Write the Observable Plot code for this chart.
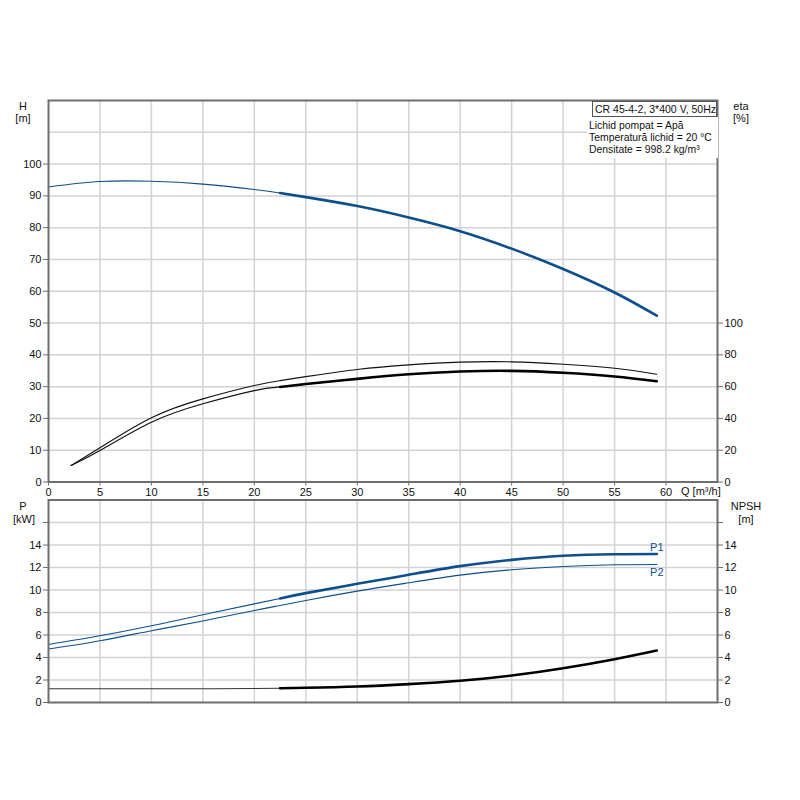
<!DOCTYPE html>
<html><head><meta charset="utf-8">
<script src="https://cdn.jsdelivr.net/npm/d3@7"></script>
<script src="https://cdn.jsdelivr.net/npm/@observablehq/plot@0.6"></script>
<style>
body{margin:0;background:#fff;font-family:"Liberation Sans",Arial,sans-serif;}
#wrap{position:relative;width:800px;height:800px;overflow:hidden;}
#wrap svg{position:absolute;left:0;}
.abs{position:absolute;font-size:11px;color:#111;white-space:nowrap;line-height:12px;z-index:2;}
.ctr{text-align:center;width:50px;}
</style></head><body><div id="wrap"></div>
<script>
// ---- data ----
const qH = [0, 5, 10, 15, 20, 22.5, 25, 30, 35, 40, 45, 50, 55, 59.1];
const headH = [92.8, 94.5, 94.6, 93.7, 92.0, 90.9, 89.6, 86.8, 83.2, 78.9, 73.4, 67.0, 59.6, 52.3];
const qEta = [2.2, 5, 10, 15, 20, 22.5, 25, 30, 35, 40, 45, 50, 55, 59.1];
const etaUpper = [10.4, 21.5, 40.4, 52.3, 60.7, 63.8, 66.3, 70.8, 73.7, 75.4, 75.6, 74.1, 71.6, 67.8];
const etaLower = [10.4, 19.8, 37.6, 49.2, 57.5, 59.8, 61.6, 64.9, 67.8, 69.5, 69.9, 68.7, 66.4, 63.4];
const qP = [0, 5, 10, 15, 20, 22.5, 25, 30, 35, 40, 45, 50, 55, 59.1];
const powerP1 = [5.16, 5.93, 6.82, 7.80, 8.77, 9.25, 9.72, 10.55, 11.35, 12.12, 12.68, 13.04, 13.18, 13.2];
const powerP2 = [4.75, 5.49, 6.38, 7.25, 8.18, 8.62, 9.07, 9.90, 10.64, 11.32, 11.80, 12.09, 12.24, 12.27];
const npsh = [1.22, 1.22, 1.22, 1.22, 1.25, 1.27, 1.31, 1.42, 1.63, 1.93, 2.40, 3.05, 3.85, 4.62];
const qTicks = [0, 5, 10, 15, 20, 25, 30, 35, 40, 45, 50, 55, 60];
const hTicks = [0, 10, 20, 30, 40, 50, 60, 70, 80, 90, 100];
const etaTicks = [0, 20, 40, 60, 80, 100];
const pTicks = [0, 2, 4, 6, 8, 10, 12, 14, 16];
const npshTicks = [0, 2, 4, 6, 8, 10, 12, 14, 16];
const pumpTitle = "CR 45-4-2, 3*400 V, 50Hz";
const infoLines = ["Lichid pompat = Apă", "Temperatură lichid = 20 °C", "Densitate = 998.2 kg/m³"];
const thickFrom = 22.5;

// ---- build ----
const blue = "#0d4f8c", gridC = "#d2d2d2", frameC = "#6e6e6e";
const toRows = (qs, vs) => qs.map((q, i) => ({q, v: vs[i]}));
const hRows = toRows(qH, headH);
const etaURows = toRows(qEta, etaUpper).map(d => ({q: d.q, v: d.v / 2}));
const etaLRows = toRows(qEta, etaLower).map(d => ({q: d.q, v: d.v / 2}));
const p1Rows = toRows(qP, powerP1), p2Rows = toRows(qP, powerP2), nRows = toRows(qP, npsh);
const thick = rows => rows.filter(d => d.q >= thickFrom);
const curve = "natural";
const style = {fontFamily: "'Liberation Sans', Arial, sans-serif", fontSize: "11px", color: "#111", background: "transparent", overflow: "visible"};

const topPlot = Plot.plot({
  width: 800, height: 500,
  marginTop: 100, marginBottom: 18.5, marginLeft: 48, marginRight: 83,
  style,
  x: {domain: [0, 65], axis: null},
  y: {domain: [0, 120], axis: null},
  marks: [
    Plot.gridX(qTicks.filter(d => d > 0), {stroke: gridC, strokeOpacity: 1, strokeWidth: 1.5}),
    Plot.gridY(d3.range(10, 120, 10), {stroke: gridC, strokeOpacity: 1, strokeWidth: 1.5}),
    Plot.axisX(qTicks, {anchor: "bottom", tickSize: 4, tickPadding: 2, label: null, stroke: frameC}),
    Plot.axisY(hTicks, {anchor: "left", tickSize: 5, tickPadding: 2, label: null, stroke: frameC}),
    Plot.axisY(etaTicks.map(e => e / 2), {anchor: "right", tickSize: 5, tickPadding: 2, label: null, stroke: frameC, tickFormat: d => d * 2}),
    Plot.line(hRows, {x: "q", y: "v", stroke: blue, strokeWidth: 1.1, curve}),
    Plot.line(thick(hRows), {x: "q", y: "v", stroke: blue, strokeWidth: 2.6, curve}),
    Plot.line(etaURows, {x: "q", y: "v", stroke: "#111", strokeWidth: 1.1, curve}),
    Plot.line(etaLRows, {x: "q", y: "v", stroke: "#111", strokeWidth: 1.1, curve}),
    Plot.line(thick(etaLRows), {x: "q", y: "v", stroke: "#000", strokeWidth: 2.6, curve}),
    Plot.frame({stroke: frameC, strokeWidth: 2})
  ]
});
topPlot.style.top = "0px";

const botPlot = Plot.plot({
  width: 800, height: 220,
  marginTop: 9.5, marginBottom: 8, marginLeft: 48, marginRight: 83,
  style,
  x: {domain: [0, 65], axis: null},
  y: {domain: [0, 18], axis: null},
  marks: [
    Plot.gridX(qTicks.filter(d => d > 0), {stroke: gridC, strokeOpacity: 1, strokeWidth: 1.5}),
    Plot.gridY(d3.range(2, 18, 2), {stroke: gridC, strokeOpacity: 1, strokeWidth: 1.5}),
    Plot.axisY(pTicks, {anchor: "left", tickSize: 5, tickPadding: 2, label: null, stroke: frameC, tickFormat: d => d === 16 ? "" : d}),
    Plot.axisY(npshTicks, {anchor: "right", tickSize: 5, tickPadding: 2, label: null, stroke: frameC, tickFormat: d => d === 16 ? "" : d}),
    Plot.line(p1Rows, {x: "q", y: "v", stroke: blue, strokeWidth: 1.1, curve}),
    Plot.line(thick(p1Rows), {x: "q", y: "v", stroke: blue, strokeWidth: 2.6, curve}),
    Plot.line(p2Rows, {x: "q", y: "v", stroke: blue, strokeWidth: 1.1, curve}),
    Plot.line(nRows, {x: "q", y: "v", stroke: "#333", strokeWidth: 1.1, curve}),
    Plot.line(thick(nRows), {x: "q", y: "v", stroke: "#000", strokeWidth: 2.6, curve}),
    Plot.text([p1Rows[p1Rows.length - 1]], {x: "q", y: "v", text: () => "P1", dy: -7, fill: blue, fontSize: 11}),
    Plot.text([p2Rows[p2Rows.length - 1]], {x: "q", y: "v", text: () => "P2", dy: 8, fill: blue, fontSize: 11}),
    Plot.frame({stroke: frameC, strokeWidth: 2})
  ]
});
botPlot.style.top = "490px";

const wrap = document.getElementById("wrap");
wrap.append(topPlot, botPlot);

function addText(txt, left, top, cls, extra) {
  const d = document.createElement("div");
  d.className = "abs " + (cls || "");
  d.textContent = txt;
  d.style.left = left + "px"; d.style.top = top + "px";
  if (extra) Object.assign(d.style, extra);
  wrap.append(d);
  return d;
}
addText("H", -2, 100, "ctr");
addText("[m]", -2, 112, "ctr");
addText("eta", 716, 100, "ctr");
addText("[%]", 716, 112, "ctr");
addText("P", -2, 500, "ctr");
addText("[kW]", -1, 513, "ctr");
addText("NPSH", 721, 500, "ctr");
addText("[m]", 721, 513, "ctr");
addText("Q [m³/h]", 681, 485);
// info box
const info = document.createElement("div");
info.className = "abs";
Object.assign(info.style, {left: "587px", top: "117px", width: "129px", height: "38px", background: "#fff", paddingLeft: "2px", paddingTop: "3px", lineHeight: "12px", fontSize: "10.4px"});
info.innerHTML = infoLines.map(s => `<div>${s}</div>`).join("");
wrap.append(info);
addText(pumpTitle, 592, 101, "", {border: "1px solid #555", background: "#fff", width: "121px", height: "14px", lineHeight: "14px", paddingLeft: "2px", fontSize: "10.5px"});
</script>
</body></html>
